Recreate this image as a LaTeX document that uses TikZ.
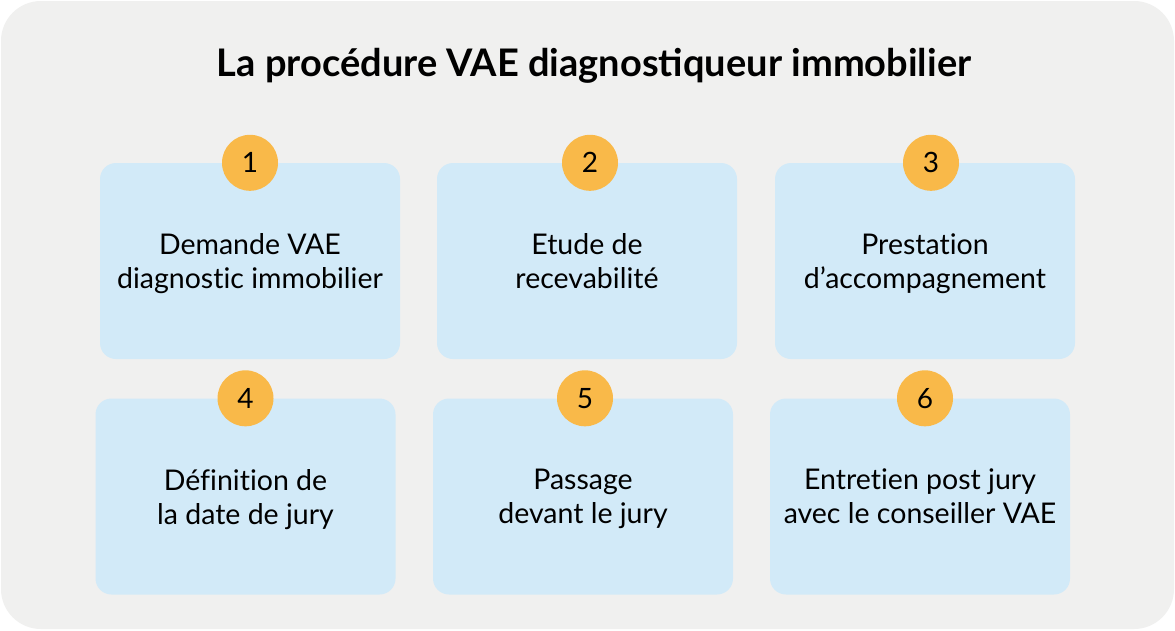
\documentclass[tikz,border=0pt]{standalone}
\usepackage{fontspec}
\setmainfont{Lato}
\definecolor{fond}{HTML}{F0F0EF}
\definecolor{bleuboite}{HTML}{D2EAF8}
\definecolor{pastille}{HTML}{F9B949}

\begin{document}
\begin{tikzpicture}[x=1pt, y=-1pt,
    etape/.style={fill=bleuboite, rounded corners=16pt, minimum width=300pt, minimum height=196pt,
        inner sep=0pt, text depth=0pt, align=center,
        font=\fontsize{28.5}{34}\selectfont\addfontfeatures{Ligatures=NoCommon}},
    numero/.style={circle, fill=pastille, minimum size=56pt, inner sep=0pt, font=\fontsize{28}{28}\selectfont}]
    \useasboundingbox[fill=white] (0,0) rectangle (1175,630);
    \fill[fond, rounded corners=40pt] (1,1) rectangle (1174,629);
    \node[anchor=base, font=\fontsize{38}{38}\selectfont\bfseries] (titre) at (594,76) {La procédure VAE diagnostiqueur immobilier};
    % premiere rangee
    \node[etape] (demande) at (250,261) {Demande VAE\\diagnostic immobilier};
    \node[etape] (etude) at (587,261) {Etude de\\recevabilité};
    \node[etape] (prestation) at (925,261) {Prestation\\d’accompagnement};
    % deuxieme rangee
    \node[etape] (definition) at (245.5,496.5) {Définition de\\la date de jury};
    \node[etape] (passage) at (583,496.5) {Passage\\devant le jury};
    \node[etape] (entretien) at (920,496.5) {Entretien post jury\\avec le conseiller VAE};
    % pastilles
    \node[numero] (n1) at (demande.north) {1};
    \node[numero] (n2) at ([xshift=3pt]etude.north) {2};
    \node[numero] (n3) at ([xshift=6pt]prestation.north) {3};
    \node[numero] (n4) at (definition.north) {4};
    \node[numero] (n5) at ([xshift=2pt]passage.north) {5};
    \node[numero] (n6) at ([xshift=5pt]entretien.north) {6};
\end{tikzpicture}
\end{document}
